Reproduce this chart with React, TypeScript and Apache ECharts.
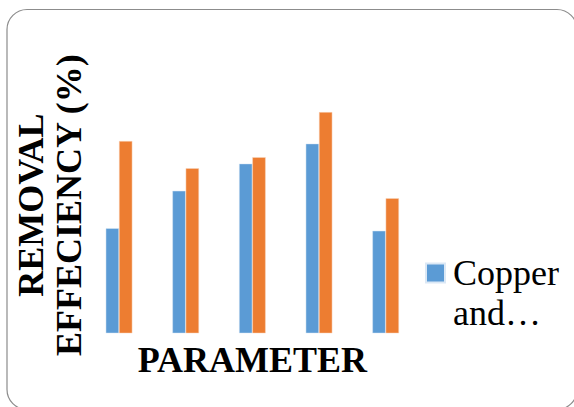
import React, { useEffect, useRef } from "react";
import * as echarts from "echarts";

const categories = ["P1", "P2", "P3", "P4", "P5"];
const copperValues = [41.0, 55.6, 66.2, 74.0, 40.0];
const secondValues = [75.0, 64.4, 68.7, 86.3, 52.7];
const seriesNames = ["Copper and…", "Series 2"];
const legendLabel = "\nCopper\nand…";
const xTitle = "PARAMETER";
const yTitle = "REMOVAL\nEFFECIENCY (%)";

export default function App() {
  const ref = useRef<HTMLDivElement>(null);
  useEffect(() => {
    if (!ref.current) return;
    const chart = echarts.init(ref.current, undefined, { renderer: "svg" });
    const serif = "Liberation Serif";
    chart.setOption({
      animation: false,
      backgroundColor: "#ffffff",
      textStyle: { fontFamily: serif },
      graphic: [
        {
          type: "rect",
          shape: { x: 7, y: 9.5, width: 570, height: 400, r: 20 },
          style: { fill: "none", stroke: "#8c8c8c", lineWidth: 1.2 },
          silent: true,
          z: -1,
        },
      ],
      grid: { left: 85.7, right: 155, top: 77, bottom: 73.7, containLabel: false },
      legend: {
        data: [seriesNames[0]],
        left: 420,
        top: 208,
        orient: "vertical",
        icon: "rect",
        itemWidth: 19,
        itemHeight: 19,
        formatter: () => legendLabel,
        textStyle: {
          fontFamily: serif,
          fontSize: 36,
          lineHeight: 40,
          color: "#000",
          padding: [0, 0, 0, 3],
        },
      },
      xAxis: {
        type: "category",
        data: categories,
        name: xTitle,
        nameLocation: "middle",
        nameGap: 9,
        nameTextStyle: { fontFamily: serif, fontSize: 36, fontWeight: "bold", color: "#000", lineHeight: 36 },
        axisLine: { show: false },
        axisTick: { show: false },
        axisLabel: { show: false },
        splitLine: { show: false },
      },
      yAxis: {
        type: "value",
        min: 0,
        max: 100,
        name: yTitle,
        nameLocation: "middle",
        nameRotate: 90,
        nameGap: -2,
        nameTextStyle: { fontFamily: serif, fontSize: 36, fontWeight: "bold", color: "#000", lineHeight: 38 },
        axisLine: { show: false },
        axisTick: { show: false },
        axisLabel: { show: false },
        splitLine: { show: false },
      },
      series: [
        {
          name: seriesNames[0],
          type: "bar",
          data: copperValues,
          barWidth: 13.3,
          barGap: "0%",
          itemStyle: { color: "#5B9BD5", borderColor: "#dbe8f5", borderWidth: 0.5 },
        },
        {
          name: seriesNames[1],
          type: "bar",
          data: secondValues,
          barWidth: 13.3,
          barGap: "0%",
          itemStyle: { color: "#ED7D31", borderColor: "#f8d6bf", borderWidth: 0.5 },
        },
      ],
    });
    return () => chart.dispose();
  }, []);
  return (
    <div
      ref={ref}
      style={{ position: "fixed", left: 0, top: 0, width: 574, height: 407 }}
    />
  );
}
